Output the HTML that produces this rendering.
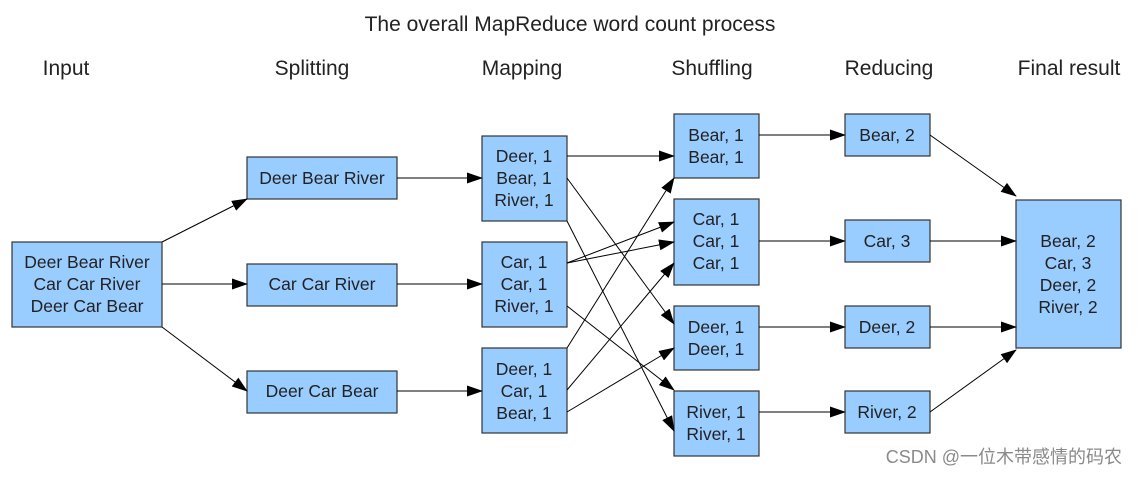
<!DOCTYPE html>
<html><head><meta charset="utf-8"><style>
html,body{margin:0;padding:0;background:#fff}
svg text{font-family:"Liberation Sans","Noto Sans CJK SC",sans-serif;fill:#222}
</style></head><body>
<svg width="1138" height="475" viewBox="0 0 1138 475" xmlns="http://www.w3.org/2000/svg">
<defs><marker id="a" markerWidth="16" markerHeight="11" refX="15" refY="5.5" orient="auto" markerUnits="userSpaceOnUse"><path d="M0,0 L16,5.5 L0,11 z" fill="#000"/></marker></defs>
<text x="570" y="31" font-size="21" text-anchor="middle">The overall MapReduce word count process</text>
<g font-size="21" text-anchor="middle">
<text x="66" y="75">Input</text><text x="312" y="75">Splitting</text><text x="522" y="75">Mapping</text>
<text x="712" y="75">Shuffling</text><text x="889" y="75">Reducing</text><text x="1069" y="75">Final result</text></g>
<g fill="#99ccff" stroke="#333" stroke-width="1.2">
<rect x="12" y="242" width="150" height="85"/>
<rect x="247" y="157" width="150" height="42"/><rect x="247" y="264" width="150" height="42"/><rect x="247" y="371" width="150" height="42"/>
<rect x="482" y="136" width="85" height="85"/><rect x="482" y="242" width="85" height="85"/><rect x="482" y="348" width="85" height="85"/>
<rect x="674" y="114" width="85" height="64"/><rect x="674" y="199" width="85" height="86"/><rect x="674" y="306" width="85" height="64"/><rect x="674" y="391" width="85" height="65"/>
<rect x="845" y="114" width="85" height="42"/><rect x="845" y="220" width="85" height="42"/><rect x="845" y="306" width="85" height="42"/><rect x="845" y="391" width="85" height="42"/>
<rect x="1016" y="200" width="105" height="148"/></g>
<g stroke="#000" stroke-width="1" marker-end="url(#a)" fill="none">
<line x1="162" y1="242" x2="247" y2="199"/><line x1="162" y1="284" x2="247" y2="284"/><line x1="162" y1="327" x2="247" y2="391"/>
<line x1="397" y1="178" x2="482" y2="178"/><line x1="397" y1="284" x2="482" y2="284"/><line x1="397" y1="391" x2="482" y2="391"/>
<line x1="567" y1="156" x2="674" y2="156"/><line x1="567" y1="178" x2="674" y2="324"/><line x1="567" y1="221" x2="674" y2="431"/>
<line x1="567" y1="263" x2="674" y2="222"/><line x1="567" y1="263" x2="674" y2="242"/><line x1="567" y1="306" x2="674" y2="390"/>
<line x1="567" y1="348" x2="674" y2="178"/><line x1="567" y1="390" x2="674" y2="263"/><line x1="567" y1="412" x2="674" y2="348"/>
<line x1="759" y1="135" x2="845" y2="135"/><line x1="759" y1="241" x2="845" y2="241"/><line x1="759" y1="327" x2="845" y2="327"/><line x1="759" y1="412" x2="845" y2="412"/>
<line x1="930" y1="135" x2="1016" y2="196"/><line x1="930" y1="241" x2="1016" y2="241"/><line x1="930" y1="327" x2="1016" y2="327"/><line x1="930" y1="412" x2="1016" y2="350"/>
</g>
<g font-size="17.5" text-anchor="middle">
<text x="87" y="268">Deer Bear River</text><text x="87" y="290">Car Car River</text><text x="87" y="312">Deer Car Bear</text>
<text x="322" y="184">Deer Bear River</text><text x="322" y="290">Car Car River</text><text x="322" y="397">Deer Car Bear</text>
<text x="524" y="162">Deer, 1</text><text x="524" y="184">Bear, 1</text><text x="524" y="206">River, 1</text>
<text x="524" y="268">Car, 1</text><text x="524" y="290">Car, 1</text><text x="524" y="312">River, 1</text>
<text x="524" y="375">Deer, 1</text><text x="524" y="397">Car, 1</text><text x="524" y="419">Bear, 1</text>
<text x="716" y="141">Bear, 1</text><text x="716" y="163">Bear, 1</text>
<text x="716" y="225">Car, 1</text><text x="716" y="247">Car, 1</text><text x="716" y="269">Car, 1</text>
<text x="716" y="333">Deer, 1</text><text x="716" y="355">Deer, 1</text>
<text x="716" y="418">River, 1</text><text x="716" y="440">River, 1</text>
<text x="887" y="141">Bear, 2</text><text x="887" y="247">Car, 3</text><text x="887" y="333">Deer, 2</text><text x="887" y="418">River, 2</text>
<text x="1068" y="247">Bear, 2</text><text x="1068" y="269">Car, 3</text><text x="1068" y="291">Deer, 2</text><text x="1068" y="313">River, 2</text>
</g>
<text x="1122" y="463" font-size="18" text-anchor="end" style="fill:#8a8a8a">CSDN @一位木带感情的码农</text>
</svg>
</body></html>
